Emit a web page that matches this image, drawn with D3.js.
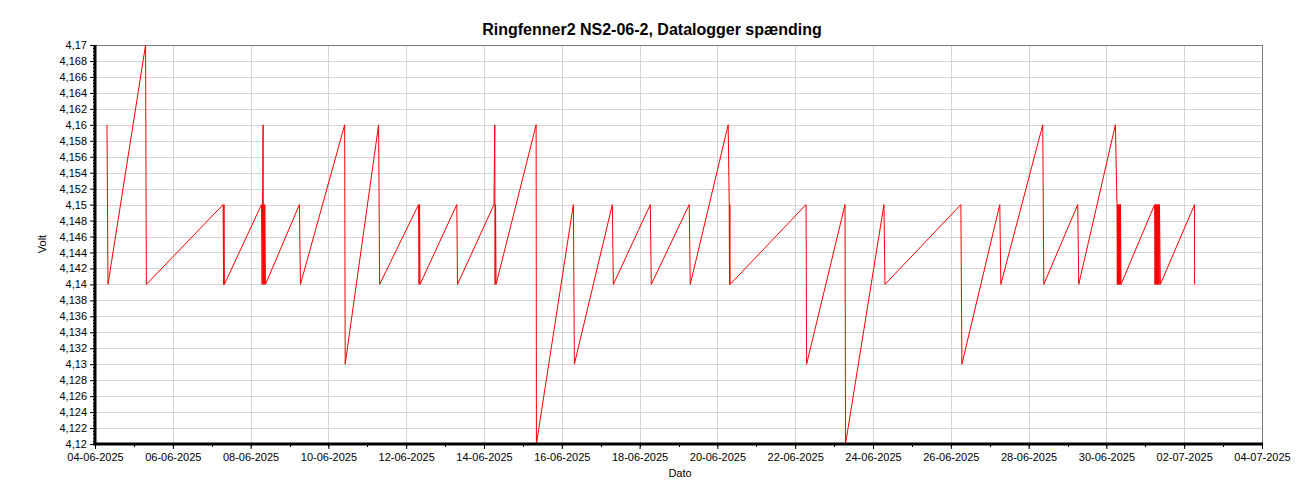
<!DOCTYPE html>
<html>
<head>
<meta charset="utf-8">
<script src="https://cdn.jsdelivr.net/npm/d3@7"></script>
<style>
  html, body { margin: 0; padding: 0; background: #ffffff; }
  svg { display: block; font-family: "Liberation Sans", Arial, sans-serif; }
</style>
</head>
<body>
<svg id="chart" width="1300" height="500"></svg>
<script>
// ---- data ----
const titleText = "Ringfenner2 NS2-06-2, Datalogger spænding";
const xLabel = "Dato";
const yLabel = "Volt";

const times = [
  "2025-06-04 07:24","2025-06-04 08:01","2025-06-05 07:12","2025-06-05 07:41",
  "2025-06-07 07:03","2025-06-07 07:20","2025-06-07 07:35","2025-06-07 07:50",
  "2025-06-08 06:43","2025-06-08 07:05","2025-06-08 07:24","2025-06-08 07:42","2025-06-08 07:53",
  "2025-06-08 08:08","2025-06-08 08:27","2025-06-08 08:45","2025-06-08 09:11",
  "2025-06-09 06:07","2025-06-09 06:45",
  "2025-06-10 10:02","2025-06-10 10:21",
  "2025-06-11 06:59","2025-06-11 07:36",
  "2025-06-12 07:38","2025-06-12 07:56","2025-06-12 08:15","2025-06-12 08:31",
  "2025-06-13 07:14","2025-06-13 07:39",
  "2025-06-14 06:10","2025-06-14 06:39","2025-06-14 06:50","2025-06-14 07:08","2025-06-14 07:27",
  "2025-06-15 08:10","2025-06-15 08:21",
  "2025-06-16 07:09","2025-06-16 07:46",
  "2025-06-17 07:10","2025-06-17 07:48",
  "2025-06-18 06:36","2025-06-18 07:12",
  "2025-06-19 06:37","2025-06-19 07:15",
  "2025-06-20 06:39","2025-06-20 07:18","2025-06-20 07:28","2025-06-20 07:39","2025-06-20 07:51",
  "2025-06-22 06:43","2025-06-22 07:02",
  "2025-06-23 06:45","2025-06-23 07:03",
  "2025-06-24 06:46","2025-06-24 07:23",
  "2025-06-26 06:13","2025-06-26 06:50",
  "2025-06-27 06:14","2025-06-27 06:52",
  "2025-06-28 08:44","2025-06-28 09:22",
  "2025-06-29 06:19","2025-06-29 06:56",
  "2025-06-30 05:33","2025-06-30 06:32","2025-06-30 06:45","2025-06-30 06:58","2025-06-30 07:11",
  "2025-06-30 07:24","2025-06-30 07:37","2025-06-30 07:50","2025-06-30 08:03","2025-06-30 08:16",
  "2025-06-30 08:29","2025-06-30 08:42","2025-06-30 09:00",
  "2025-07-01 05:46","2025-07-01 06:00","2025-07-01 06:15","2025-07-01 06:30","2025-07-01 06:45",
  "2025-07-01 07:00","2025-07-01 07:15","2025-07-01 07:30","2025-07-01 07:45","2025-07-01 08:00",
  "2025-07-01 08:15","2025-07-01 08:30","2025-07-01 08:45","2025-07-01 09:16",
  "2025-07-02 06:24","2025-07-02 06:25"
];
const volts = [
  4.16,4.14,4.17,4.14,
  4.15,4.14,4.15,4.14,
  4.15,4.14,4.15,4.16,4.14,
  4.15,4.14,4.15,4.14,
  4.15,4.14,
  4.16,4.13,
  4.16,4.14,
  4.15,4.14,4.15,4.14,
  4.15,4.14,
  4.15,4.16,4.14,4.15,4.14,
  4.16,4.12,
  4.15,4.13,
  4.15,4.14,
  4.15,4.14,
  4.15,4.14,
  4.16,4.15,4.14,4.15,4.14,
  4.15,4.13,
  4.15,4.12,
  4.15,4.14,
  4.15,4.13,
  4.15,4.14,
  4.16,4.14,
  4.15,4.14,
  4.16,4.15,4.14,4.15,4.14,
  4.15,4.14,4.15,4.14,4.15,
  4.14,4.15,4.14,
  4.15,4.14,4.15,4.14,4.15,
  4.14,4.15,4.14,4.15,4.14,
  4.15,4.14,4.15,4.14,
  4.15,4.14
];

const xDomain = ["2025-06-04 00:00", "2025-07-04 00:00"];
const xTickDates = ["2025-06-04","2025-06-06","2025-06-08","2025-06-10","2025-06-12","2025-06-14",
  "2025-06-16","2025-06-18","2025-06-20","2025-06-22","2025-06-24","2025-06-26","2025-06-28",
  "2025-06-30","2025-07-02","2025-07-04"];
const yDomain = [4.12, 4.17];
const yTicks = [4.12,4.122,4.124,4.126,4.128,4.13,4.132,4.134,4.136,4.138,4.14,4.142,4.144,
  4.146,4.148,4.15,4.152,4.154,4.156,4.158,4.16,4.162,4.164,4.166,4.168,4.17];

// ---- drawing ----
const parseT = d3.timeParse("%Y-%m-%d %H:%M");
const parseD = d3.timeParse("%Y-%m-%d");
const data = times.map((t, i) => ({ t: parseT(t), v: volts[i] }));

const svg = d3.select("#chart");
const L = 95, R = 1262, T = 45, B = 444;

const x = d3.scaleTime().domain(xDomain.map(parseT)).range([L, R]);
const y = d3.scaleLinear().domain(yDomain).range([B, T]);

const fmtY = v => (+v.toFixed(3)).toString().replace(".", ",");
const fmtX = d3.timeFormat("%d-%m-%Y");

// grid
const grid = svg.append("g").attr("shape-rendering", "crispEdges");
grid.selectAll("line.h").data(yTicks).enter().append("line")
  .attr("x1", L).attr("x2", R)
  .attr("y1", d => Math.round(y(d)) + 0.5).attr("y2", d => Math.round(y(d)) + 0.5)
  .attr("stroke", "#d4d4d4").attr("stroke-width", 1.5);
grid.selectAll("line.v").data(xTickDates.map(parseD)).enter().append("line")
  .attr("x1", d => Math.round(x(d)) + 0.5).attr("x2", d => Math.round(x(d)) + 0.5)
  .attr("y1", T).attr("y2", B)
  .attr("stroke", "#d4d4d4").attr("stroke-width", 1.5);

// top/right border
svg.append("path")
  .attr("d", `M${L},${T + 0.5}H${R + 0.5}V${B}`)
  .attr("fill", "none").attr("stroke", "#7a7a7a").attr("stroke-width", 1.5)
  .attr("shape-rendering", "crispEdges");

// line
const line = d3.line().x(d => x(d.t)).y(d => y(d.v));
svg.append("path").datum(data)
  .attr("d", line)
  .attr("fill", "none").attr("stroke", "#ff0000").attr("stroke-width", 1);

// y axis
const yAxis = d3.axisLeft(y).tickValues(yTicks).tickFormat(fmtY).tickSize(5).tickPadding(3);
const gy = svg.append("g").attr("transform", `translate(${L},0)`).call(yAxis);
gy.select(".domain").remove();
gy.selectAll(".tick line").attr("stroke", "#000");
gy.selectAll("text").attr("font-size", 11).attr("fill", "#000")
  .attr("font-family", "'Liberation Sans', Arial, sans-serif");
// y minor ticks
const yMinor = d3.range(0, 126).map(i => 4.12 + i * 0.0004);
svg.append("g").selectAll("line").data(yMinor).enter().append("line")
  .attr("x1", L - 2).attr("x2", L)
  .attr("y1", d => Math.round(y(d)) + 0.5).attr("y2", d => Math.round(y(d)) + 0.5)
  .attr("stroke", "#000").attr("shape-rendering", "crispEdges");

// x axis
const xAxis = d3.axisBottom(x).tickValues(xTickDates.map(parseD)).tickFormat(fmtX).tickSize(5).tickPadding(4);
const gx = svg.append("g").attr("transform", `translate(0,${B})`).call(xAxis);
gx.select(".domain").remove();
gx.selectAll(".tick line").attr("stroke", "#000");
gx.selectAll("text").attr("font-size", 11).attr("fill", "#000")
  .attr("font-family", "'Liberation Sans', Arial, sans-serif");
// x minor ticks (each day)
const xMinor = d3.timeDay.range(parseT(xDomain[0]), parseT(xDomain[1]));
svg.append("g").selectAll("line").data(xMinor).enter().append("line")
  .attr("x1", d => Math.round(x(d)) + 0.5).attr("x2", d => Math.round(x(d)) + 0.5)
  .attr("y1", B).attr("y2", B + 3)
  .attr("stroke", "#000").attr("shape-rendering", "crispEdges");

// thick axis lines
svg.append("line").attr("x1", L).attr("x2", L).attr("y1", T).attr("y2", B + 1.5)
  .attr("stroke", "#000").attr("stroke-width", 3);
svg.append("line").attr("x1", L - 1.5).attr("x2", R + 1).attr("y1", B).attr("y2", B)
  .attr("stroke", "#000").attr("stroke-width", 3);

// title and labels
svg.append("text").attr("x", 652).attr("y", 35).attr("text-anchor", "middle")
  .attr("font-size", 16).attr("font-weight", "bold").attr("fill", "#000").text(titleText);
svg.append("text").attr("x", 680).attr("y", 477).attr("text-anchor", "middle")
  .attr("font-size", 11).attr("fill", "#000").text(xLabel);
svg.append("text").attr("transform", "translate(46,244) rotate(-90)").attr("text-anchor", "middle")
  .attr("font-size", 11).attr("fill", "#000").text(yLabel);
</script>
</body>
</html>
